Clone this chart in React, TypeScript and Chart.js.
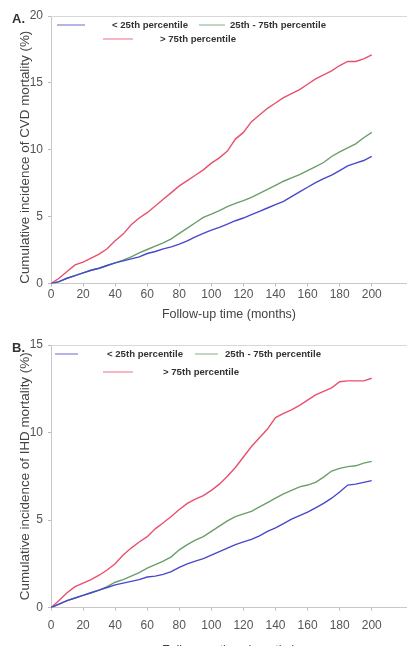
import React, { useEffect, useRef } from 'react';
import { Chart, registerables } from 'chart.js';

Chart.register(...registerables);

// ---- data ----
const MONTHS = [0, 5, 10, 15, 20, 25, 30, 35, 40, 45, 50, 55, 60, 65, 70, 75, 80, 85, 90, 95, 100, 105, 110, 115, 120, 125, 130, 135, 140, 145, 150, 155, 160, 165, 170, 175, 180, 185, 190, 195, 200];

const CVD_LOW = [0, 0.15, 0.4, 0.6, 0.8, 1.0, 1.15, 1.35, 1.55, 1.7, 1.85, 2.0, 2.25, 2.4, 2.6, 2.75, 2.95, 3.2, 3.5, 3.75, 4.0, 4.2, 4.45, 4.7, 4.9, 5.15, 5.4, 5.65, 5.9, 6.15, 6.5, 6.85, 7.2, 7.55, 7.85, 8.1, 8.45, 8.8, 9.0, 9.2, 9.5];
const CVD_MID = [0, 0.15, 0.4, 0.6, 0.8, 1.0, 1.15, 1.35, 1.55, 1.75, 2.0, 2.3, 2.55, 2.8, 3.05, 3.35, 3.75, 4.15, 4.55, 4.95, 5.2, 5.45, 5.75, 6.0, 6.2, 6.45, 6.75, 7.05, 7.35, 7.65, 7.9, 8.15, 8.45, 8.75, 9.05, 9.5, 9.85, 10.15, 10.45, 10.9, 11.3];
const CVD_HIGH = [0, 0.4, 0.9, 1.4, 1.6, 1.9, 2.2, 2.6, 3.2, 3.7, 4.4, 4.9, 5.3, 5.8, 6.3, 6.8, 7.3, 7.7, 8.1, 8.5, 9.0, 9.4, 9.9, 10.8, 11.3, 12.1, 12.6, 13.1, 13.5, 13.9, 14.2, 14.5, 14.9, 15.3, 15.6, 15.9, 16.3, 16.6, 16.6, 16.8, 17.1];

const IHD_LOW = [0, 0.2, 0.4, 0.55, 0.7, 0.85, 1.0, 1.15, 1.3, 1.4, 1.5, 1.6, 1.75, 1.8, 1.9, 2.05, 2.3, 2.5, 2.65, 2.8, 3.0, 3.2, 3.4, 3.6, 3.75, 3.9, 4.1, 4.35, 4.55, 4.8, 5.05, 5.25, 5.45, 5.7, 5.95, 6.25, 6.6, 7.0, 7.05, 7.15, 7.25];
const IHD_MID = [0, 0.2, 0.4, 0.55, 0.7, 0.85, 1.0, 1.2, 1.45, 1.6, 1.8, 2.0, 2.25, 2.45, 2.65, 2.9, 3.3, 3.6, 3.85, 4.05, 4.35, 4.65, 4.95, 5.2, 5.35, 5.5, 5.75, 6.0, 6.25, 6.5, 6.7, 6.9, 7.0, 7.15, 7.45, 7.8, 7.95, 8.05, 8.1, 8.25, 8.35];
const IHD_HIGH = [0, 0.4, 0.85, 1.2, 1.4, 1.6, 1.85, 2.15, 2.5, 3.0, 3.4, 3.75, 4.05, 4.5, 4.85, 5.2, 5.6, 5.95, 6.2, 6.4, 6.7, 7.05, 7.5, 8.0, 8.6, 9.2, 9.7, 10.2, 10.85, 11.1, 11.3, 11.55, 11.85, 12.15, 12.35, 12.55, 12.9, 12.95, 12.95, 12.95, 13.1];

const SERIES_LABELS = ['< 25th percentile', '25th - 75th percentile', '> 75th percentile'];
const SERIES_COLORS = ['#4848cc', '#6a9e6a', '#e8506e'];

const X_TICKS = [0, 20, 40, 60, 80, 100, 120, 140, 160, 180, 200];
const CVD_Y_TICKS = [0, 5, 10, 15, 20];
const IHD_Y_TICKS = [0, 5, 10, 15];

const X_TITLE = 'Follow-up time (months)';
const CVD_Y_TITLE = 'Cumulative incidence of CVD mortality (%)';
const IHD_Y_TITLE = 'Cumulative incidence of IHD mortality (%)';

// ---- plugin: top frame line + legend drawn inside the plot area ----
const frameAndLegend = {
  id: 'frameAndLegend',
  afterDatasetsDraw(chart: any, _args: any, opts: any) {
    const { ctx, chartArea } = chart;
    ctx.save();
    ctx.strokeStyle = '#d8d8d8';
    ctx.lineWidth = 1;
    ctx.beginPath();
    ctx.moveTo(chartArea.left, chartArea.top + 0.5);
    ctx.lineTo(chartArea.right, chartArea.top + 0.5);
    ctx.stroke();
    const items = opts.items || [];
    ctx.font = 'bold 9.6px "Liberation Sans", Arial, sans-serif';
    ctx.textBaseline = 'middle';
    ctx.textAlign = 'left';
    items.forEach((it: any) => {
      const ds = chart.data.datasets[it.index];
      const y = chartArea.top + opts.rows[it.row];
      ctx.globalAlpha = 0.55;
      ctx.strokeStyle = ds.borderColor;
      ctx.lineWidth = 1.5;
      ctx.beginPath();
      ctx.moveTo(it.x0, y);
      ctx.lineTo(it.x1, y);
      ctx.stroke();
      ctx.globalAlpha = 1;
      ctx.fillStyle = '#333';
      ctx.fillText(ds.label, it.tx, y);
    });
    ctx.restore();
  },
};

type PanelProps = {
  top: number;
  height: number;
  low: number[];
  mid: number[];
  high: number[];
  yTicks: number[];
  yTitle: string;
  yTitlePad: string;
  letter: string;
  tickPad: number;
  titlePadTop: number;
  legendRows: number[];
  legendItems: any[];
};

function Panel(p: PanelProps) {
  const ref = useRef<HTMLCanvasElement>(null);
  useEffect(() => {
    if (!ref.current) return;
    const series = [p.low, p.mid, p.high];
    const chart = new Chart(ref.current, {
      type: 'line',
      data: {
        datasets: series.map((vals, i) => ({
          label: SERIES_LABELS[i],
          data: MONTHS.map((m, j) => ({ x: m, y: vals[j] })),
          borderColor: SERIES_COLORS[i],
          backgroundColor: SERIES_COLORS[i],
          borderWidth: 1.4,
          pointRadius: 0,
          tension: 0,
          fill: false,
        })),
      },
      options: {
        animation: false,
        responsive: true,
        maintainAspectRatio: false,
        layout: { padding: { top: 16, left: 0, right: 0, bottom: 0 } },
        plugins: {
          legend: { display: false },
          tooltip: { enabled: false },
          frameAndLegend: { rows: p.legendRows, items: p.legendItems },
        } as any,
        scales: {
          x: {
            type: 'linear',
            min: 0,
            max: 222,
            afterBuildTicks: (s: any) => {
              s.ticks = X_TICKS.map((v) => ({ value: v }));
            },
            grid: { display: true, drawOnChartArea: false, drawTicks: true, tickLength: 3, color: '#bbb' },
            border: { display: true, color: '#c8c8c8' },
            ticks: {
              padding: p.tickPad,
              color: '#555',
              maxRotation: 0,
              autoSkip: false,
              font: { family: '"Liberation Sans", Arial, sans-serif', size: 12 },
            },
            title: {
              display: true,
              text: X_TITLE,
              color: '#444',
              padding: { top: p.titlePadTop, bottom: 2 },
              font: { family: '"Liberation Sans", Arial, sans-serif', size: 12.5 },
            },
          },
          y: {
            type: 'linear',
            min: 0,
            max: p.yTicks[p.yTicks.length - 1],
            afterBuildTicks: (s: any) => {
              s.ticks = p.yTicks.map((v) => ({ value: v }));
            },
            afterFit: (s: any) => {
              s.width = 51;
            },
            grid: { display: true, drawOnChartArea: false, drawTicks: true, tickLength: 3, color: '#bbb' },
            border: { display: true, color: '#c8c8c8' },
            ticks: {
              padding: 5,
              color: '#555',
              font: { family: '"Liberation Sans", Arial, sans-serif', size: 12 },
            },
            title: {
              display: true,
              text: p.yTitle + p.yTitlePad,
              color: '#444',
              padding: { top: 17, bottom: 0 },
              font: { family: '"Liberation Sans", Arial, sans-serif', size: 13.4 },
            },
          },
        },
      },
      plugins: [frameAndLegend],
    } as any);
    return () => chart.destroy();
  }, []);

  return (
    <div style={{ position: 'absolute', left: 0, top: p.top, width: 407, height: p.height }}>
      <canvas ref={ref} />
      <span
        style={{
          position: 'absolute',
          left: 12,
          top: 11,
          font: 'bold 13px "Liberation Sans", Arial, sans-serif',
          color: '#333',
        }}
      >
        {p.letter}
      </span>
    </div>
  );
}

export default function App() {
  return (
    <div
      style={{
        position: 'fixed',
        left: 0,
        top: 0,
        width: 407,
        height: 646,
        overflow: 'hidden',
        background: '#fff',
      }}
    >
      <Panel
        top={0}
        height={324}
        low={CVD_LOW}
        mid={CVD_MID}
        high={CVD_HIGH}
        yTicks={CVD_Y_TICKS}
        yTitle={CVD_Y_TITLE}
        yTitlePad={'    '}
        letter="A."
        tickPad={1}
        titlePadTop={4}
        legendRows={[9, 23]}
        legendItems={[
          { index: 0, row: 0, x0: 57, x1: 85, tx: 112 },
          { index: 1, row: 0, x0: 199, x1: 225, tx: 230 },
          { index: 2, row: 1, x0: 103, x1: 133, tx: 160 },
        ]}
      />
      <Panel
        top={329}
        height={331}
        low={IHD_LOW}
        mid={IHD_MID}
        high={IHD_HIGH}
        yTicks={IHD_Y_TICKS}
        yTitle={IHD_Y_TITLE}
        yTitlePad={''}
        letter="B."
        tickPad={8}
        titlePadTop={2}
        legendRows={[9, 27]}
        legendItems={[
          { index: 0, row: 0, x0: 55, x1: 78, tx: 107 },
          { index: 1, row: 0, x0: 195, x1: 218, tx: 225 },
          { index: 2, row: 1, x0: 103, x1: 133, tx: 163 },
        ]}
      />
    </div>
  );
}
